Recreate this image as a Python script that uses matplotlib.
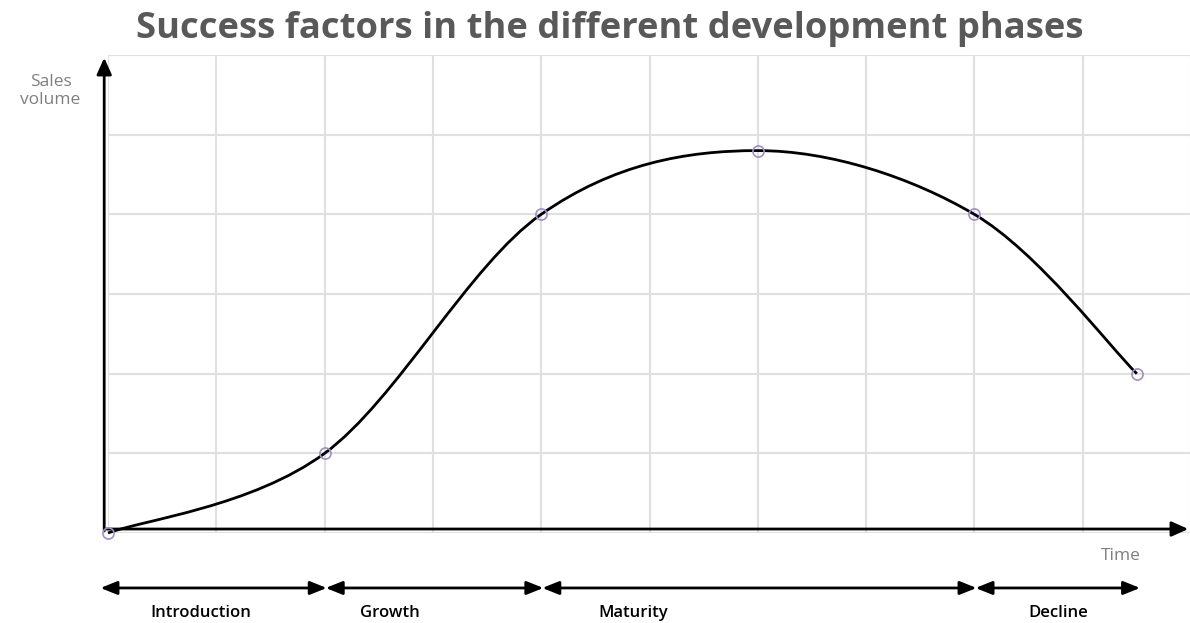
import numpy as np
import matplotlib
matplotlib.use("Agg")
import matplotlib.pyplot as plt
from matplotlib.path import Path
from matplotlib.patches import PathPatch

# ---- data ----
time_pts = [0, 2, 4, 6, 8, 9.5]
sales_pts = [0, 1, 4, 4.8, 4, 2]
phase_names = ["Introduction", "Growth", "Maturity", "Decline"]
phase_start = [0, 2, 4, 8]
phase_end = [2, 4, 8, 9.5]
title = "Success factors in the different development phases"

fig = plt.figure(figsize=(11.9, 6.23), dpi=100)
ax = fig.add_axes([108 / 1190, 90 / 623, 1083 / 1190, 478 / 623])
ax.set_xlim(0, 10)
ax.set_ylim(0, 6)
ax.set_xticks(np.arange(0, 11, 1))
ax.set_yticks(np.arange(0, 7, 1))
ax.grid(True, color="#e0e0e0", linewidth=1.5)
ax.tick_params(length=0, labelbottom=False, labelleft=False)
for s in ax.spines.values():
    s.set_visible(False)
ax.set_axisbelow(True)

# smooth (Excel-like Catmull-Rom Bezier) curve through the data points
P = np.column_stack([time_pts, sales_pts]).astype(float)
n = len(P)
verts = [tuple(P[0])]
codes = [Path.MOVETO]
for i in range(n - 1):
    p_prev = P[i - 1] if i > 0 else P[i]
    p_next2 = P[i + 2] if i + 2 < n else P[i + 1]
    c1 = P[i] + (P[i + 1] - p_prev) / 6
    c2 = P[i + 1] - (p_next2 - P[i]) / 6
    verts += [tuple(c1), tuple(c2), tuple(P[i + 1])]
    codes += [Path.CURVE4] * 3
ax.add_patch(PathPatch(Path(verts, codes), facecolor="none", edgecolor="black",
                       linewidth=2.0, zorder=3, clip_on=False))
ax.plot(time_pts, sales_pts, linestyle="none", marker="o", markersize=8,
        markerfacecolor="none", markeredgecolor="#a08fc8", markeredgewidth=1.2,
        zorder=4, clip_on=False)

# axes arrows
arrow_kw = dict(arrowstyle="-|>,head_length=1.0,head_width=0.45", color="black", lw=2)
ax.annotate("", xy=(-0.035, 6.0), xytext=(-0.035, -0.01),
            arrowprops=arrow_kw, annotation_clip=False)
ax.annotate("", xy=(10.0, 0.05), xytext=(-0.04, 0.05),
            arrowprops=arrow_kw, annotation_clip=False)

# axis titles
ax.text(-0.53, 5.55, "Sales\nvolume", ha="center", va="center", fontsize=12.5,
        color="#7f7f7f", family="Open Sans", linespacing=1.2)
ax.text(9.35, -0.29, "Time", ha="center", va="center", fontsize=12.5,
        color="#7f7f7f", family="Open Sans")

# phase arrows
phase_kw = dict(arrowstyle="<|-|>,head_length=1.0,head_width=0.4", color="black",
                lw=2, shrinkA=0, shrinkB=0)
for name, a, b in zip(phase_names, phase_start, phase_end):
    ax.annotate("", xy=(b + 0.02 if b < 9 else b + 0.03, -0.69), xytext=(a - 0.07 if a == 0 else a + 0.01, -0.69),
                arrowprops=phase_kw, annotation_clip=False)

label_x = [0.86, 2.6, 4.85, 8.77]
for name, lx in zip(phase_names, label_x):
    ax.text(lx, -1.0, name, ha="center", va="center", fontsize=12,
            color="black", family="Open Sans", fontweight="semibold")

fig.text(610 / 1190, 1 - 29 / 623, title, ha="center", va="center",
         fontsize=26.2, fontweight="bold", color="#595959", family="Open Sans")

fig.savefig("out.png", dpi=100)
